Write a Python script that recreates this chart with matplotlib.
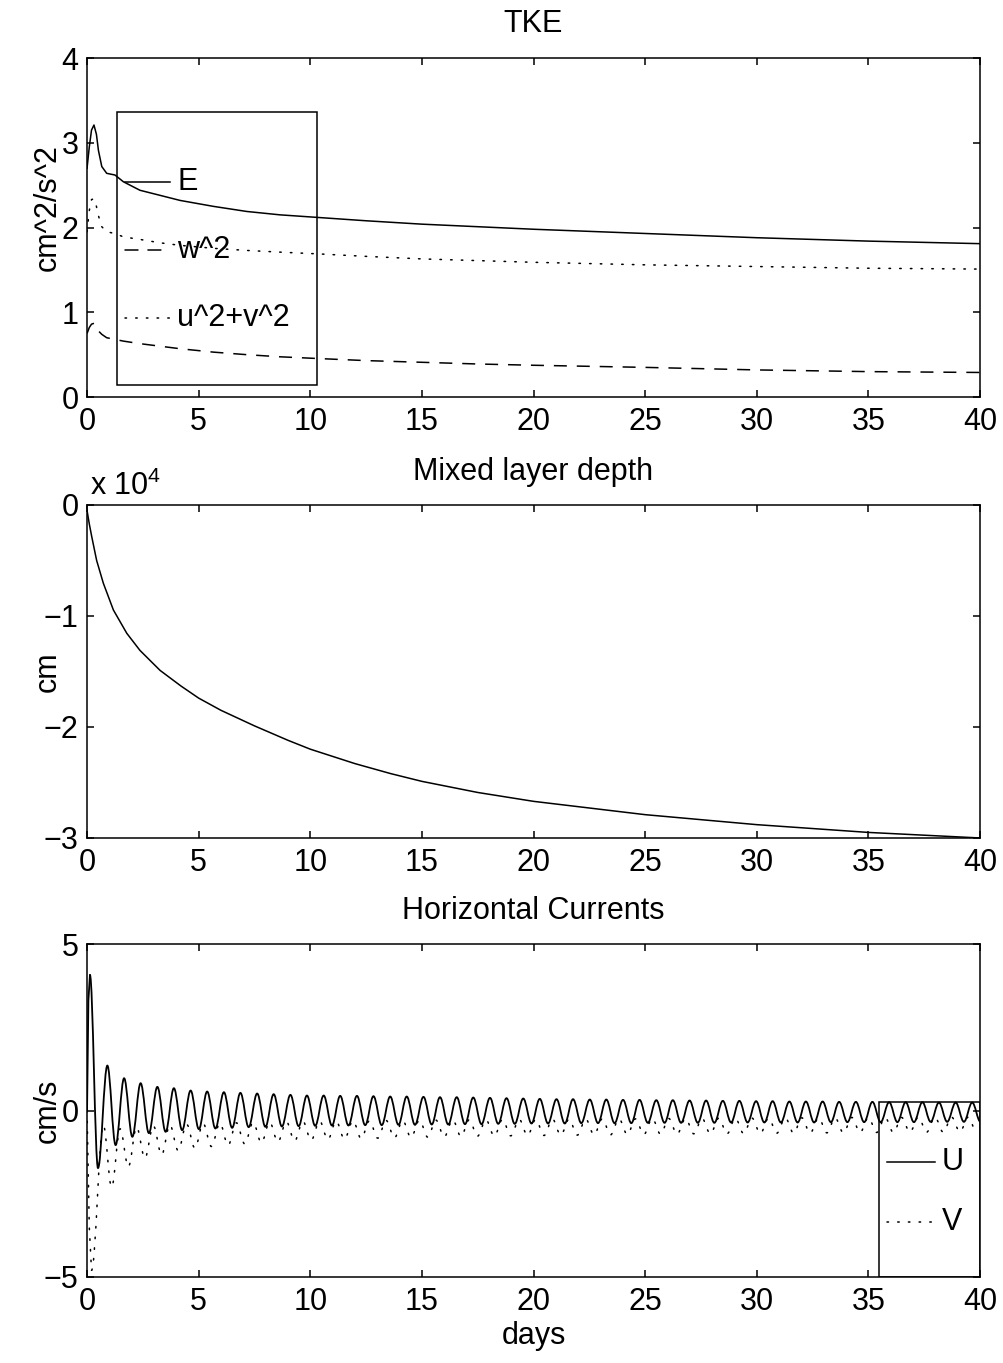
import matplotlib
matplotlib.use('Agg')
import matplotlib.pyplot as plt
import numpy as np
from matplotlib.patches import Rectangle, PathPatch
from matplotlib.path import Path
from matplotlib.ticker import FuncFormatter

# ---------------- data ----------------
# TKE panel
tke_t = [0, 0.1, 0.2, 0.31, 0.42, 0.51, 0.66, 0.88, 1.25, 1.63, 2.37, 3.27, 4.17,
         5.66, 7.15, 8.64, 10.3, 12.5, 15, 17.5, 20, 25, 30, 35, 40]
tke_E = [2.70, 2.95, 3.15, 3.21, 3.10, 2.91, 2.72, 2.64, 2.62, 2.54, 2.44, 2.38, 2.32,
         2.25, 2.19, 2.15, 2.12, 2.08, 2.04, 2.01, 1.98, 1.93, 1.88, 1.84, 1.81]
tke_w2 = [0.75, 0.82, 0.86, 0.87, 0.84, 0.78, 0.74, 0.70, 0.68, 0.66, 0.63, 0.60, 0.57,
          0.53, 0.50, 0.475, 0.455, 0.43, 0.41, 0.39, 0.375, 0.35, 0.32, 0.30, 0.29]
tke_uv = [1.95, 2.20, 2.33, 2.34, 2.25, 2.14, 2.01, 1.95, 1.93, 1.89, 1.86, 1.82, 1.79,
          1.755, 1.73, 1.71, 1.69, 1.66, 1.63, 1.61, 1.59, 1.56, 1.54, 1.52, 1.51]
tke_labels = ['E', 'w^2', 'u^2+v^2']

# Mixed layer depth panel (cm)
mld_t = [0, 0.1, 0.21, 0.43, 0.73, 1.18, 1.78, 2.37, 3.27, 4.2, 5, 6, 7.5, 9, 10,
         12, 13.6, 15, 17.5, 20, 25, 30, 35, 40]
mld_cm = [-500, -1700, -2850, -5000, -7050, -9460, -11560, -13100, -14900, -16300,
          -17400, -18500, -19900, -21200, -22000, -23300, -24200, -24900, -25900,
          -26700, -27900, -28800, -29500, -30000]

# Horizontal currents panel (cm/s): start of record, then alternating extrema
u_start_t = [0, 0.06, 0.13, 0.49]
u_start = [0.0, 3.3, 4.07, -1.73]
u_peak_t = [0.91, 1.66, 2.40, 3.15, 3.89, 4.64, 5.38, 6.13, 6.87, 7.62, 8.36, 9.11, 9.85,
            10.60, 11.34, 12.09, 12.83, 13.58, 14.32, 15.07, 15.81, 16.56, 17.30, 18.05,
            18.79, 19.54, 20.28, 21.03, 21.77, 22.52, 23.26, 24.01, 24.75, 25.50, 26.24,
            26.99, 27.73, 28.48, 29.22, 29.97, 30.71, 31.46, 32.20, 32.95, 33.69, 34.44,
            35.18, 35.93, 36.67, 37.42, 38.16, 38.91, 39.65]
u_peak = [1.35, 0.97, 0.82, 0.71, 0.67, 0.60, 0.57, 0.55, 0.53, 0.51, 0.49, 0.47, 0.45,
          0.45, 0.44, 0.44, 0.43, 0.42, 0.42, 0.41, 0.40, 0.40, 0.39, 0.38, 0.37, 0.36,
          0.35, 0.34, 0.34, 0.33, 0.33, 0.32, 0.32, 0.31, 0.31, 0.30, 0.30, 0.29, 0.29,
          0.28, 0.28, 0.27, 0.27, 0.27, 0.26, 0.26, 0.26, 0.25, 0.25, 0.25, 0.24, 0.24, 0.24]
u_trough_t = [1.28, 2.03, 2.77, 3.52, 4.26, 5.01, 5.75, 6.50, 7.24, 7.99, 8.73, 9.48,
              10.22, 10.97, 11.71, 12.46, 13.20, 13.95, 14.69, 15.44, 16.18, 16.93, 17.67,
              18.42, 19.16, 19.91, 20.65, 21.40, 22.14, 22.89, 23.63, 24.38, 25.12, 25.87,
              26.61, 27.36, 28.10, 28.85, 29.59, 30.34, 31.08, 31.83, 32.57, 33.32, 34.06,
              34.81, 35.55, 36.30, 37.04, 37.79, 38.53, 39.28, 40.02]
u_trough = [-1.04, -0.79, -0.68, -0.64, -0.59, -0.56, -0.54, -0.52, -0.50, -0.49, -0.48,
            -0.47, -0.46, -0.45, -0.45, -0.44, -0.44, -0.43, -0.43, -0.42, -0.42, -0.41,
            -0.41, -0.40, -0.40, -0.39, -0.39, -0.39, -0.38, -0.38, -0.38, -0.38, -0.37,
            -0.37, -0.37, -0.37, -0.37, -0.36, -0.36, -0.36, -0.36, -0.36, -0.36, -0.35,
            -0.35, -0.35, -0.35, -0.35, -0.35, -0.34, -0.34, -0.34, -0.34]

v_start_t = [0, 0.1, 0.2]
v_start = [0.0, -3.5, -4.8]
v_peak_t = [0.73, 1.48, 2.22, 2.97, 3.71, 4.46, 5.20, 5.95, 6.69, 7.44, 8.18, 8.93, 9.67,
            10.42, 11.16, 11.91, 12.65, 13.40, 14.14, 14.89, 15.63, 16.38, 17.12, 17.87,
            18.61, 19.36, 20.10, 20.85, 21.59, 22.34, 23.08, 23.83, 24.57, 25.32, 26.06,
            26.81, 27.55, 28.30, 29.04, 29.79, 30.53, 31.28, 32.02, 32.77, 33.51, 34.26,
            35.00, 35.75, 36.49, 37.24, 37.98, 38.73, 39.47]
v_peak = [-0.44, -0.55, -0.50, -0.46, -0.43, -0.41, -0.39, -0.38, -0.37, -0.36, -0.35,
          -0.34, -0.33, -0.32, -0.32, -0.31, -0.31, -0.30, -0.30, -0.29, -0.29, -0.28,
          -0.28, -0.28, -0.27, -0.27, -0.27, -0.26, -0.26, -0.26, -0.25, -0.25, -0.25,
          -0.24, -0.24, -0.24, -0.24, -0.23, -0.23, -0.23, -0.23, -0.22, -0.22, -0.22,
          -0.22, -0.21, -0.21, -0.21, -0.21, -0.20, -0.20, -0.20, -0.20]
v_trough_t = [1.10, 1.85, 2.59, 3.34, 4.08, 4.83, 5.57, 6.32, 7.06, 7.81, 8.55, 9.30,
              10.04, 10.79, 11.53, 12.28, 13.02, 13.77, 14.51, 15.26, 16.00, 16.75, 17.49,
              18.24, 18.98, 19.73, 20.47, 21.22, 21.96, 22.71, 23.45, 24.20, 24.94, 25.69,
              26.43, 27.18, 27.92, 28.67, 29.41, 30.16, 30.90, 31.65, 32.39, 33.14, 33.88,
              34.63, 35.37, 36.12, 36.86, 37.61, 38.35, 39.10, 39.84]
v_trough = [-2.30, -1.69, -1.43, -1.33, -1.20, -1.13, -1.08, -1.04, -1.00, -0.97, -0.94,
            -0.91, -0.89, -0.87, -0.86, -0.84, -0.83, -0.82, -0.81, -0.80, -0.79, -0.78,
            -0.77, -0.77, -0.76, -0.75, -0.75, -0.74, -0.74, -0.73, -0.73, -0.72, -0.72,
            -0.71, -0.71, -0.70, -0.70, -0.70, -0.69, -0.69, -0.68, -0.68, -0.68, -0.67,
            -0.67, -0.66, -0.66, -0.66, -0.65, -0.65, -0.65, -0.64, -0.64]
cur_labels = ['U', 'V']

x_ticks = [0, 5, 10, 15, 20, 25, 30, 35, 40]

# ---------------- assemble series ----------------
# ramp at the start is drawn as straight segments; the oscillation passes
# smoothly through the read extrema (horizontal tangent at each extremum)
u_ext_t = np.concatenate([u_start_t[2:], np.column_stack([u_peak_t, u_trough_t]).ravel()])
u_ext_v = np.concatenate([u_start[2:], np.column_stack([u_peak, u_trough]).ravel()])
v_ext_t = np.concatenate([v_start_t[2:], np.column_stack([v_peak_t, v_trough_t]).ravel()])
v_ext_v = np.concatenate([v_start[2:], np.column_stack([v_peak, v_trough]).ravel()])


def extrema_path(ts, ys, k=0.3642):
    verts = [(ts[0], ys[0])]
    codes = [Path.MOVETO]
    for i in range(len(ts) - 1):
        dt = ts[i + 1] - ts[i]
        verts += [(ts[i] + k * dt, ys[i]), (ts[i + 1] - k * dt, ys[i + 1]),
                  (ts[i + 1], ys[i + 1])]
        codes += [Path.CURVE4] * 3
    return Path(verts, codes)


# ---------------- style ----------------
plt.rcParams['font.family'] = ['Liberation Sans', 'DejaVu Sans']
plt.rcParams['mathtext.default'] = 'regular'
FS = 22
LW = 1.1
DOT = (0, (1, 6))
DASH = (0, (8.5, 6.5))

fig = plt.figure(figsize=(10.04, 13.63), dpi=100)
L, W = 0.0867, 0.8894
ax1 = fig.add_axes([L, 0.7087, W, 0.2487])
ax2 = fig.add_axes([L, 0.3852, W, 0.2443])
ax3 = fig.add_axes([L, 0.0631, W, 0.2443])


def style(ax):
    ax.set_xlim(0, 40)
    ax.set_xticks(x_ticks)
    ax.tick_params(direction='in', length=5, width=LW, top=True, right=True,
                   labelsize=FS, pad=7)
    ax.tick_params(axis='y', pad=6)
    for s in ax.spines.values():
        s.set_linewidth(LW)
    ax.yaxis.set_label_coords(-0.0274, 0.5)


# ---- TKE ----
ax1.plot(tke_t, tke_E, color='black', lw=LW, solid_joinstyle='round')
ax1.plot(tke_t, tke_w2, color='black', lw=LW, linestyle=DASH)
ax1.plot(tke_t, tke_uv, color='black', lw=LW, linestyle=DOT, dash_capstyle='round')
ax1.set_ylim(0, 4)
ax1.set_yticks([0, 1, 2, 3, 4])
style(ax1)
ax1.set_title('TKE', fontsize=FS, pad=19)
ax1.set_ylabel('cm^2/s^2', fontsize=FS)
ax1.yaxis.set_label_coords(-0.0274, 0.56)
ax1.add_patch(Rectangle((0.0336, 0.0354), 0.258 - 0.0336, 0.8416 - 0.0354,
                        transform=ax1.transAxes, fill=False, lw=LW, ec='black'))
for yy, ls, lab in zip([0.635, 0.4336, 0.233], ['-', DASH, DOT], tke_labels):
    ax1.plot([0.0426, 0.093], [yy, yy], transform=ax1.transAxes, color='black',
             lw=LW, linestyle=ls, dash_capstyle='round')
    ax1.text(0.101, yy, lab, transform=ax1.transAxes, fontsize=FS, va='center', ha='left')

# ---- Mixed layer depth ----
ax2.plot(mld_t, mld_cm, color='black', lw=LW)
ax2.set_ylim(-30000, 0)
ax2.set_yticks([-30000, -20000, -10000, 0])
ax2.yaxis.set_major_formatter(FuncFormatter(lambda v, p: f'{v/1e4:g}'.replace('-', '\u2212')))
style(ax2)
ax2.set_title('Mixed layer depth', fontsize=FS, pad=18)
ax2.set_ylabel('cm', fontsize=FS)
ax2.text(0.0034, 1.03, 'x 10$^{4}$', transform=ax2.transAxes, fontsize=FS,
         ha='left', va='baseline')

# ---- Horizontal currents ----
ax3.plot(u_start_t[:3], u_start[:3], color='black', lw=1.3, solid_joinstyle='round')
ax3.add_patch(PathPatch(extrema_path(u_ext_t, u_ext_v), fill=False, ec='black',
                        lw=1.3, joinstyle='round'))
ax3.plot(v_start_t, v_start, color='black', lw=LW, linestyle=DOT, dash_capstyle='round')
ax3.add_patch(PathPatch(extrema_path(v_ext_t, v_ext_v), fill=False, ec='black',
                        lw=LW, linestyle=DOT, capstyle='round'))
ax3.set_ylim(-5, 5)
ax3.set_yticks([-5, 0, 5])
style(ax3)
ax3.set_title('Horizontal Currents', fontsize=FS, pad=18)
ax3.set_ylabel('cm/s', fontsize=FS)
ax3.set_xlabel('days', fontsize=FS, labelpad=3)
ax3.add_patch(Rectangle((0.887, 0.0), 1.0 - 0.887, 0.5264,
                        transform=ax3.transAxes, fill=False, lw=LW, ec='black'))
for yy, ls, lab in zip([0.345, 0.165], ['-', DOT], cur_labels):
    ax3.plot([0.896, 0.9496], [yy, yy], transform=ax3.transAxes, color='black',
             lw=LW, linestyle=ls, dash_capstyle='round')
    ax3.text(0.9575, yy, lab, transform=ax3.transAxes, fontsize=FS, va='center', ha='left')

fig.savefig('out.png', dpi=100, facecolor='white')
